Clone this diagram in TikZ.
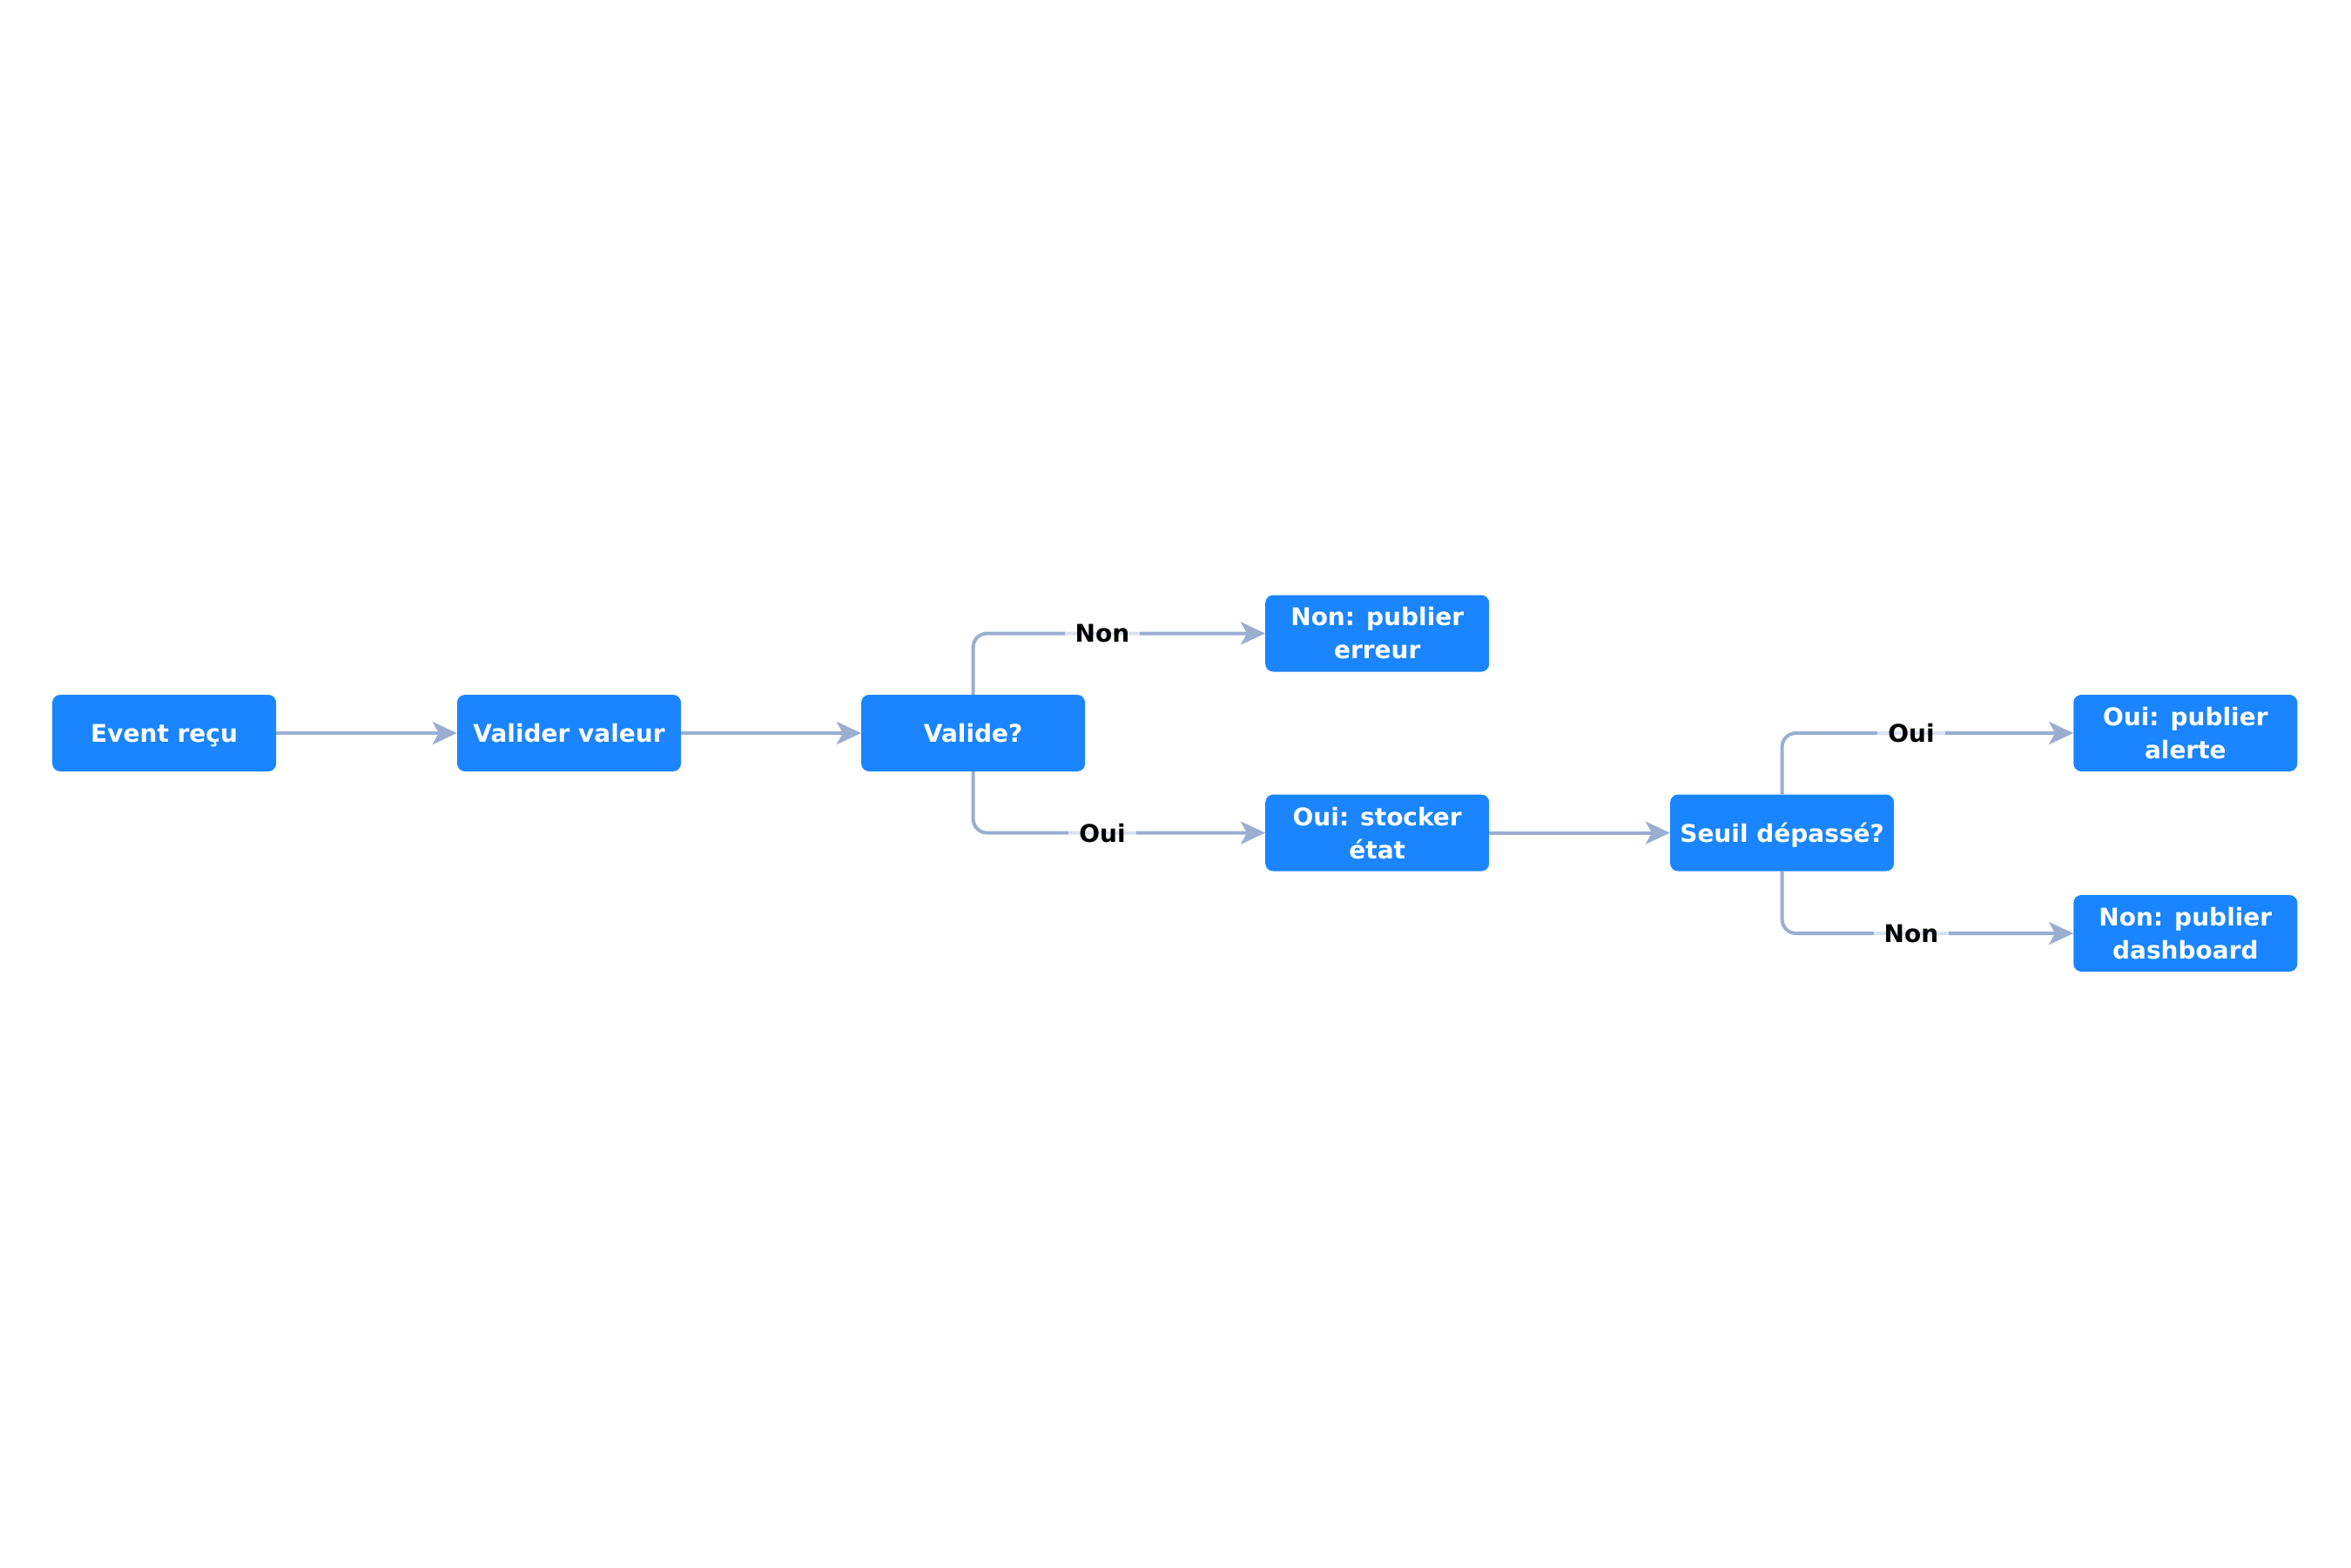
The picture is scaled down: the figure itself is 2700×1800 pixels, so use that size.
\documentclass[tikz,border=0pt]{standalone}
\usepackage{fontspec}
\setmainfont{DejaVu Sans}
\usetikzlibrary{arrows.meta}
\definecolor{boxblue}{HTML}{1A85FF}
\definecolor{edgecol}{HTML}{9AAED2}
\begin{document}
\begin{tikzpicture}[x=1pt,y=-1pt,
 box/.style={draw=none, fill=boxblue, rounded corners=9pt, minimum width=257pt, minimum height=88pt, text=white, font=\fontsize{28}{38}\selectfont\bfseries, align=center, inner sep=0pt},
 oneline/.style={text height=21pt, text depth=0pt},
 conn/.style={draw=edgecol, line width=4pt, -{Stealth[length=28pt,width=26pt,inset=7pt]}, rounded corners=16pt},
 lab/.style={fill=white, fill opacity=0.65, text opacity=1, font=\fontsize{28}{34}\selectfont\bfseries, inner xsep=12pt, inner ysep=4pt}]
\useasboundingbox (0,0) rectangle (2700,1800);
\node[box,oneline] (event) at (188.6,842) {Event reçu};
\node[box,oneline] (valider) at (653.5,842) {Valider valeur};
\node[box,oneline] (valide) at (1117.6,842) {Valide?};
\node[box] (erreur) at (1581.7,727.5) {Non: publier\\erreur};
\node[box] (stocker) at (1581.7,956.6) {Oui: stocker\\état};
\node[box,oneline] (seuil) at (2046.6,956.6) {Seuil dépassé?};
\node[box] (alerte) at (2509.8,842) {Oui: publier\\alerte};
\node[box] (dash) at (2509.8,1072) {Non: publier\\dashboard};

\draw[conn] (event) -- (valider);
\draw[conn] (valider) -- (valide);
\draw[conn] (valide.north) |- (erreur.west);
\draw[conn] (valide.south) |- (stocker.west);
\draw[conn] (stocker) -- (seuil);
\draw[conn] (seuil.north) |- (alerte.west);
\draw[conn] (seuil.south) |- (dash.west);

\node[lab] (l1) at (1266,727.5) {Non};
\node[lab] (l2) at (1266,956.6) {Oui};
\node[lab] (l3) at (2195,842) {Oui};
\node[lab] (l4) at (2195,1072) {Non};
\end{tikzpicture}
\end{document}
